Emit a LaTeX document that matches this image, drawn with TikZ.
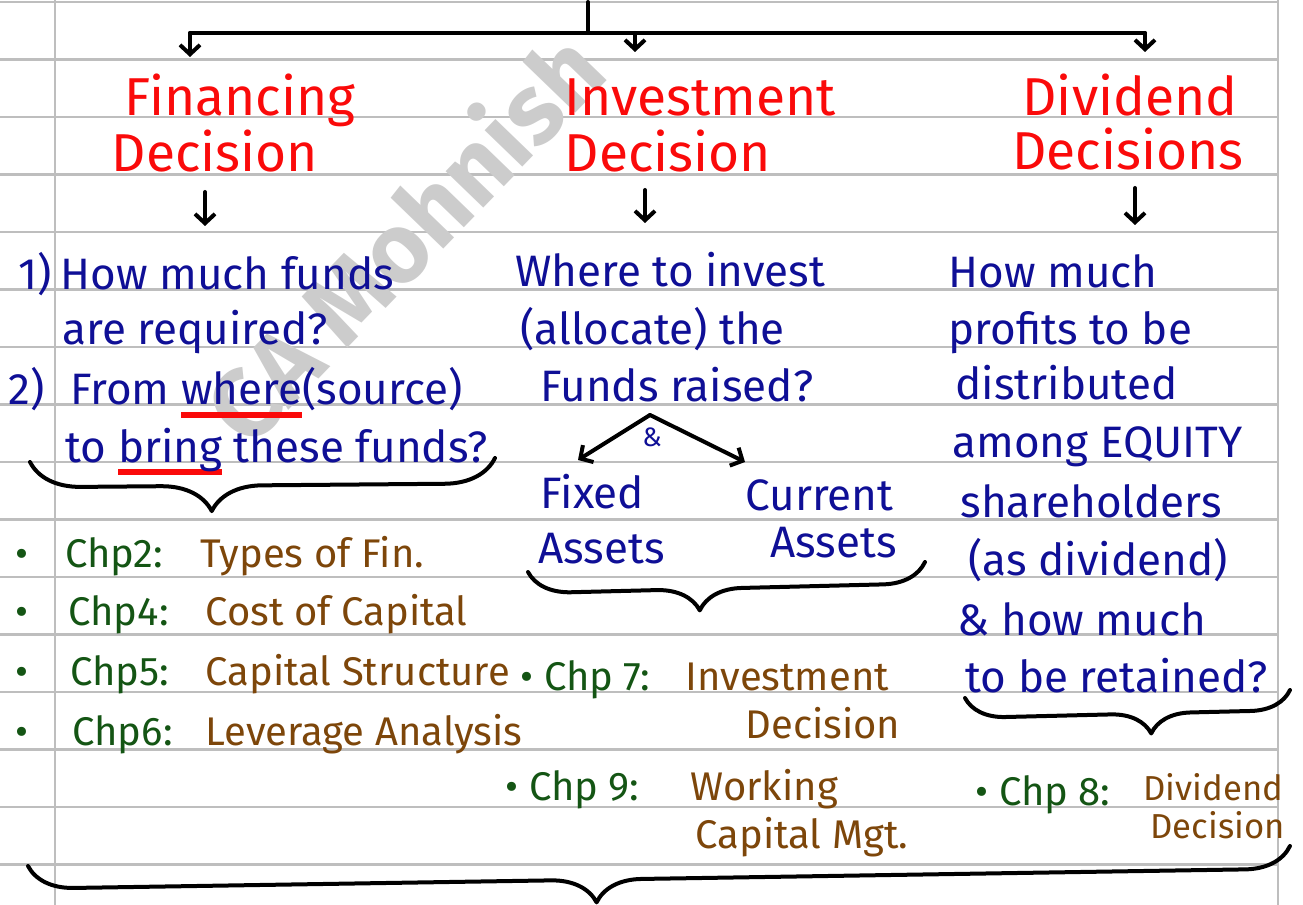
\documentclass[tikz,border=0pt]{standalone}
\usepackage{fontspec}
\setmainfont{Fira Sans}
\usetikzlibrary{arrows.meta,decorations.pathreplacing}

\definecolor{inkblue}{RGB}{15,15,150}
\definecolor{inkred}{RGB}{250,10,10}
\definecolor{inkgreen}{RGB}{20,85,20}
\definecolor{inkbrown}{RGB}{125,70,10}
\definecolor{ruled}{RGB}{190,190,190}

% red stroke under a word
\newcommand{\redul}[1]{\setbox0\hbox{#1}\rlap{\color{inkred}\rule[-10pt]{\wd0}{5pt}}\box0\relax}

\tikzset{every picture/.style={line width=0.75pt}}
\tikzset{
	pen/.style={line width=3pt, black, line cap=round, line join=round},
	tip/.style={pen, -{Straight Barb[length=7pt,width=15pt,line width=3pt]}},
	curly/.style 2 args={pen, decorate, decoration={brace, mirror, amplitude=#2, aspect=#1}},
	head/.style={text=inkred, font=\fontsize{40}{44}\selectfont, inner sep=0pt, anchor=base},
	note/.style={text=inkblue, font=\fontsize{33}{38}\selectfont, inner sep=0pt, anchor=base west},
	chp/.style={text=inkgreen, font=\fontsize{30}{34}\selectfont, inner sep=0pt, anchor=base west},
	topic/.style={text=inkbrown, font=\fontsize{30}{34}\selectfont, inner sep=0pt, anchor=base west},
}

\begin{document}
\begin{tikzpicture}[x=0.75pt,y=0.75pt,yscale=-1,xscale=1]
	\useasboundingbox (0,0) rectangle (1303,905);
	
	%ruled page
	\foreach \k in {0,...,15}
		\draw[ruled, line width=2.2pt] (0,2+57.5*\k) -- (1278,2+57.5*\k);
	\draw[ruled, line width=2.2pt] (55,0) -- (55,905);
	\draw[ruled, line width=2.2pt] (1278,0) -- (1278,905);
	
	%watermark
	\node[rotate=46, text=black!20, font=\bfseries\fontsize{74}{74}\selectfont] (mark) at (402,236) {CA Mohnish};
	
	%headings
	\node[head] (fin1) at (240,116) {Financing};
	\node[head] (fin2) at (215,172) {Decision};
	\node[head] (inv1) at (700,116) {Investment};
	\node[head] (inv2) at (668,172) {Decision};
	\node[head] (div1) at (1130,116) {Dividend};
	\node[head] (div2) at (1128,170) {Decisions};
	
	%top branching
	\coordinate (root) at (588,2);
	\coordinate (barL) at (190,33);
	\coordinate (barM) at (635,33);
	\coordinate (barR) at (1145,33);
	\draw[pen] (root) -- (root |- barL);
	\draw[pen] (barL) -- (barR);
	\draw[tip] (barL) -- (190,57);
	\draw[tip] (barM) -- (635,52);
	\draw[tip] (barR) -- (1145,52);
	
	%financing
	\coordinate (fa) at (205,192);
	\draw[tip] (fa) -- (205,226);
	\node[note] (n1) at (18,290) {1)};
	\node[note] (q1) at (60,290) {How much funds};
	\node[note] (q2) at (62,345) {are required?};
	\node[note] (n2) at (8,405) {2)};
	\node[note] (q3) at (70,405) {From \redul{where}(source)};
	\node[note] (q4) at (65,462) {to \redul{bring} these funds?};
	\draw[curly={0.39}{38pt}] (30,462) -- (495,458);
	
	%investment
	\coordinate (ia) at (645,190);
	\draw[tip] (ia) -- (645,223);
	\node[note] (w1) at (515,287) {Where to invest};
	\node[note] (w2) at (520,345) {(allocate) the};
	\node[note] (w3) at (540,402) {Funds raised?};
	\coordinate (fork) at (650,415);
	\draw[tip] (fork) -- (578,460);
	\draw[tip] (fork) -- (745,462);
	\node[text=inkblue, font=\fontsize{20}{22}\selectfont, inner sep=0pt] (amp) at (652,437) {\&};
	\node[note] (fx1) at (540,508) {Fixed};
	\node[note] (fx2) at (538,563) {Assets};
	\node[note] (cu1) at (745,510) {Current};
	\node[note] (cu2) at (770,557) {Assets};
	\draw[curly={0.43}{32pt}] (528,572) -- (925,562);
	
	%dividend
	\coordinate (da) at (1135,188);
	\draw[tip] (da) -- (1135,225);
	\node[note] (d1) at (948,288) {How much};
	\node[note] (d2) at (948,345) {profits to be};
	\node[note] (d3) at (955,400) {distributed};
	\node[note] (d4) at (952,458) {among EQUITY};
	\node[note] (d5) at (960,517) {shareholders};
	\node[note] (d6) at (968,575) {(as dividend)};
	\node[note] (d7) at (957,635) {\& how much};
	\node[note] (d8) at (965,692) {to be retained?};
	\draw[curly={0.57}{30pt}] (965,698) -- (1290,690);
	
	%chapters
	\foreach \y/\c in {567/2,625/4,685/5,745/6}
		\node[chp] (b\c) at (15,\y) {•};
	\node[chp] (c2) at (65,567) {Chp2:};
	\node[topic] (t2) at (200,567) {Types of Fin.};
	\node[chp] (c4) at (68,625) {Chp4:};
	\node[topic] (t4) at (205,625) {Cost of Capital};
	\node[chp] (c5) at (70,685) {Chp5:};
	\node[topic] (t5) at (205,685) {Capital Structure};
	\node[chp] (c6) at (72,745) {Chp6:};
	\node[topic] (t6) at (205,745) {Leverage Analysis};
	
	\node[chp] (c7) at (520,690) {• Chp 7:};
	\node[topic] (t7a) at (685,690) {Investment};
	\node[topic] (t7b) at (745,738) {Decision};
	\node[chp] (c9) at (505,800) {• Chp 9:};
	\node[topic] (t9a) at (690,800) {Working};
	\node[topic] (t9b) at (695,848) {Capital Mgt.};
	\node[chp] (c8) at (975,805) {• Chp 8:};
	\node[topic, font=\fontsize{26}{30}\selectfont] (t8a) at (1143,800) {Dividend};
	\node[topic, font=\fontsize{26}{30}\selectfont] (t8b) at (1150,838) {Decision};
	
	\draw[curly={0.45}{34pt}] (28,866) -- (1290,846);
	
\end{tikzpicture}
\end{document}
